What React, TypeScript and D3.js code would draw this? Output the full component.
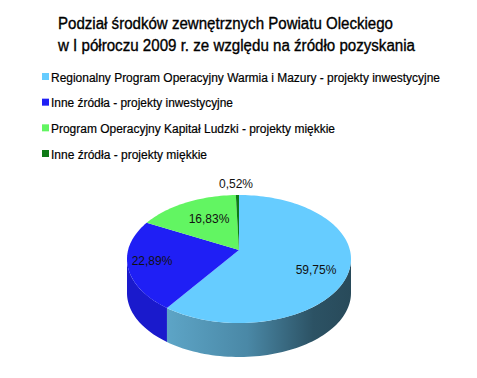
import React from "react";
import * as d3 from "d3";

const titleLines = [
  "Podział środków zewnętrznych Powiatu Oleckiego",
  "w I półroczu 2009 r. ze względu na źródło pozyskania",
];
const titleWidths = [335, 357];
const categories = [
  "Regionalny Program Operacyjny Warmia i Mazury - projekty inwestycyjne",
  "Inne źródła - projekty inwestycyjne",
  "Program Operacyjny Kapitał Ludzki - projekty miękkie",
  "Inne źródła - projekty miękkie",
];
const values = [59.75, 22.89, 16.83, 0.52];
const valueLabels = ["59,75%", "22,89%", "16,83%", "0,52%"];
const colors = ["#66ccff", "#1f1ff5", "#62f562", "#0e7a16"];
const sideColors = ["url(#sideBlue)", "#1a1acc", "#3fc63f", "#0a5a10"];
const legendWidths = [389, 182, 284, 156];

const W = 477;
const H = 378;
const cx = 239;
const cy = 259;
const rx = 112;
const ry = 64;
const depth = 34;
const persp = -0.14;

function project(t: number, r = 1): [number, number] {
  const u = r * Math.sin(t);
  const v = -r * Math.cos(t);
  const den = 1 + persp * v;
  const vp = (v + persp) / den;
  const up = (u * Math.sqrt(1 - persp * persp)) / den;
  return [cx + rx * up, cy + ry * vp];
}

function topPath(a0: number, a1: number): string {
  const n = Math.max(2, Math.ceil(((a1 - a0) / (Math.PI * 2)) * 200));
  const pts: [number, number][] = [project(0, 0)];
  for (let i = 0; i <= n; i++) pts.push(project(a0 + ((a1 - a0) * i) / n));
  return d3.line()(pts) + "Z";
}

function sidePath(a0: number, a1: number): string | null {
  const th0 = Math.acos(persp);
  const th1 = Math.PI * 2 - th0;
  const s = Math.max(a0, th0);
  const e = Math.min(a1, th1);
  if (e <= s) return null;
  const n = Math.max(2, Math.ceil(((e - s) / (Math.PI * 2)) * 200));
  const top: [number, number][] = [];
  for (let i = 0; i <= n; i++) top.push(project(s + ((e - s) * i) / n));
  const bot = top.map(([x, y]) => [x, y + depth] as [number, number]).reverse();
  return d3.line()([...top, ...bot]) + "Z";
}

export default function App() {
  const arcs = d3
    .pie<number>()
    .sort(null)
    .startAngle(0)
    .endAngle(Math.PI * 2)(values);

  const labelPos: [number, number][] = [
    [316, 274],
    [152, 265],
    [209, 223],
    [236, 188],
  ];

  const legendY = d3
    .scalePoint<number>()
    .domain(d3.range(categories.length))
    .range([77, 154]);

  const font = "'Liberation Sans', Arial, sans-serif";

  return (
    <svg
      width={W}
      height={H}
      style={{ position: "absolute", left: 0, top: 0, background: "#fff" }}
      fontFamily={font}
    >
      <defs>
        <linearGradient id="sideBlue" gradientUnits="userSpaceOnUse" x1={163} y1={0} x2={351} y2={0}>
          <stop offset="0" stopColor="#5ea6c8" />
          <stop offset="0.45" stopColor="#4a88a6" />
          <stop offset="0.8" stopColor="#2c5264" />
          <stop offset="1" stopColor="#284a5a" />
        </linearGradient>
      </defs>
      <rect x={0} y={0} width={W} height={H} fill="#fff" />
      {titleLines.map((t, i) => (
        <text
          key={i}
          x={58}
          y={29 + i * 22}
          fontSize={16}
          fill="#000"
          stroke="#000"
          strokeWidth={0.35}
          textLength={titleWidths[i]}
          lengthAdjust="spacingAndGlyphs"
        >
          {t}
        </text>
      ))}
      {categories.map((c, i) => (
        <g key={i}>
          <rect x={42} y={legendY(i)! - 4} width={7} height={7} fill={colors[i]} />
          <text
            x={51}
            y={legendY(i)! + 4.5}
            fontSize={12.5}
            textLength={legendWidths[i]}
            lengthAdjust="spacingAndGlyphs"
            fill="#000"
            stroke="#000"
            strokeWidth={0.2}
          >
            {c}
          </text>
        </g>
      ))}
      {arcs.map((a, i) => {
        const p = sidePath(a.startAngle, a.endAngle);
        return p ? <path key={"s" + i} d={p} fill={sideColors[i]} /> : null;
      })}
      {arcs.map((a, i) => (
        <path key={"t" + i} d={topPath(a.startAngle, a.endAngle)} fill={colors[i]} />
      ))}
      {valueLabels.map((l, i) => (
        <text key={"l" + i} x={labelPos[i][0]} y={labelPos[i][1]} fontSize={12} textAnchor="middle" fill="#111">
          {l}
        </text>
      ))}
    </svg>
  );
}
